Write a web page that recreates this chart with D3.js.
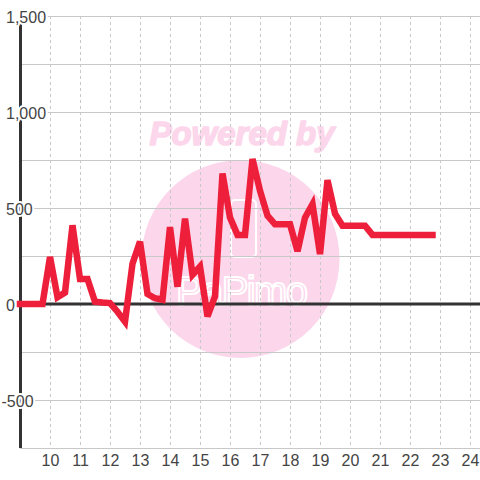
<!DOCTYPE html>
<html><head><meta charset="utf-8">
<script src="https://cdn.jsdelivr.net/npm/d3@7"></script>
<style>body{margin:0;background:#fff}svg{display:block}</style>
</head><body>
<svg id="chart" width="480" height="480"></svg>
<script>
const times = [9, 9.25, 9.5, 9.75, 10, 10.25, 10.5, 10.75, 11, 11.25, 11.5, 11.75,
  12, 12.25, 12.5, 12.75, 13, 13.25, 13.5, 13.75, 14, 14.25, 14.5, 14.75,
  15, 15.25, 15.5, 15.75, 16, 16.25, 16.5, 16.75, 17, 17.25, 17.5, 17.75,
  18, 18.25, 18.5, 18.75, 19, 19.25, 19.5, 19.75, 20, 20.25, 20.5, 20.75,
  21, 21.25, 21.5, 21.75, 22, 22.25, 22.5, 22.75];
const values = [0, 0, 0, 0, 245, 35, 60, 410, 130, 130, 12, 8,
  5, -40, -92, 210, 325, 52, 30, 22, 400, 90, 445, 152,
  195, -65, 40, 680, 450, 360, 360, 755, 590, 460, 415, 415,
  415, 275, 450, 520, 260, 645, 470, 408, 408, 408, 408, 360,
  360, 360, 360, 360, 360, 360, 360, 360];
const xTicks = [10, 11, 12, 13, 14, 15, 16, 17, 18, 19, 20, 21, 22, 23, 24];
const yTickLabels = [1500, 1000, 500, 0, -500];
const yGridValues = [1500, 1250, 1000, 750, 500, 250, -250, -500, -750];

const svg = d3.select("#chart");
const x = d3.scaleLinear().domain([9, 24.333]).range([20, 480]);
const y = d3.scaleLinear().domain([-750, 1500]).range([448, 16]);
const FONT = "'Liberation Sans', Arial, sans-serif";

// watermark
const wm = svg.append("g");
wm.append("circle").attr("cx", 240.5).attr("cy", 259).attr("r", 99).attr("fill", "#fcd6eb");
wm.append("text").attr("x", 242).attr("y", 145).attr("text-anchor", "middle")
  .attr("font-family", FONT).attr("font-weight", "bold").attr("font-style", "italic")
  .attr("font-size", 33).attr("fill", "#fcd6eb")
  .attr("stroke", "#fcd6eb").attr("stroke-width", 1.5).attr("stroke-linejoin", "round")
  .text("Powered by");
wm.append("rect").attr("x", 231).attr("y", 200).attr("width", 25).attr("height", 57)
  .attr("rx", 4).attr("fill", "none").attr("stroke", "#fff").attr("stroke-width", 2);
wm.append("text").attr("x", 176).attr("y", 305)
  .attr("font-family", FONT).attr("font-size", 40)
  .attr("textLength", 132).attr("lengthAdjust", "spacing")
  .attr("fill", "none").attr("stroke", "#fff").attr("stroke-width", 2)
  .text("PaPimo");

// horizontal grid
svg.append("g").selectAll("line").data(yGridValues).join("line")
  .attr("x1", 20).attr("x2", 480)
  .attr("y1", d => y(d) + 0.5).attr("y2", d => y(d) + 0.5)
  .attr("stroke", "#c8c8c8").attr("stroke-width", 1);

// vertical dashed grid
svg.append("g").selectAll("line").data(xTicks).join("line")
  .attr("x1", d => Math.round(x(d)) + 0.5).attr("x2", d => Math.round(x(d)) + 0.5)
  .attr("y1", y(1500)).attr("y2", y(-750))
  .attr("stroke", "#c8c8c8").attr("stroke-width", 1).attr("stroke-dasharray", "3,3");

// zero line
svg.append("line").attr("x1", 20).attr("x2", 480).attr("y1", y(0)).attr("y2", y(0))
  .attr("stroke", "#333").attr("stroke-width", 3);
// y axis line
svg.append("line").attr("x1", 20.5).attr("x2", 20.5).attr("y1", y(1500)).attr("y2", y(-750))
  .attr("stroke", "#333").attr("stroke-width", 3);

// y labels
const fmt = d3.format(",");
svg.append("g").selectAll("text").data(yTickLabels).join("text")
  .attr("x", d => d < 0 ? 1.5 : 6).attr("y", d => y(d)).attr("dy", "0.42em")
  .attr("font-family", FONT).attr("font-size", 16).attr("fill", "#444")
  .attr("stroke", "#fff").attr("stroke-width", 4).attr("stroke-linejoin", "round")
  .attr("paint-order", "stroke")
  .text(d => fmt(d).replace("\u2212", "-"));

// x axis labels
const xAxis = d3.axisBottom(x).tickValues(xTicks).tickSize(0).tickPadding(0).tickFormat(d3.format("d"));
const gx = svg.append("g").attr("transform", "translate(0,454)").call(xAxis);
gx.select(".domain").remove();
gx.selectAll("text").attr("font-family", FONT).attr("font-size", 16).attr("fill", "#444")
  .attr("y", 0).attr("dy", "0.78em");

// data line
const line = d3.line().x((d, i) => x(times[i])).y(d => y(d));
svg.append("path").datum(values).attr("d", line)
  .attr("fill", "none").attr("stroke", "#ed1f3a").attr("stroke-width", 6.5)
  .attr("stroke-linejoin", "miter").attr("stroke-linecap", "square");
</script>
</body></html>
